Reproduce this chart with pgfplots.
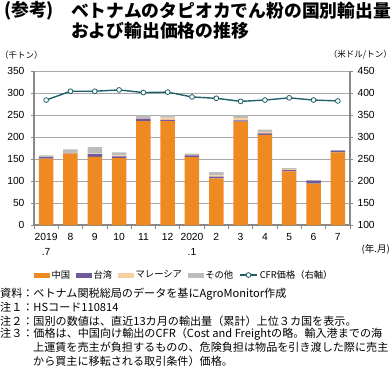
\documentclass[border=0pt]{standalone}
\usepackage{pgfplots}
\pgfplotsset{compat=1.18}
\usepackage{fontspec}
\setmainfont{Noto Sans CJK JP}
\newfontfamily\numfont{Liberation Sans}
\definecolor{cn}{HTML}{EE8A21}
\definecolor{tw}{HTML}{6F5A9C}
\definecolor{my}{HTML}{F8CFA0}
\definecolor{ot}{HTML}{BCBCBC}
\definecolor{cfr}{HTML}{1E5F68}
\definecolor{axg}{HTML}{888888}
\definecolor{grd}{HTML}{A8A8A8}
\begin{document}
\begin{tikzpicture}[x=1pt,y=1pt]
\path (0,0) rectangle (392,-370);
\node[anchor=west,font=\bfseries\fontsize{17.8}{20}\selectfont,inner sep=0] at (4,-11) {(参考)};
\node[anchor=west,font=\bfseries\fontsize{17.8}{20}\selectfont,inner sep=0] at (71,-11) {ベトナムのタピオカでん粉の国別輸出量};
\node[anchor=west,font=\bfseries\fontsize{17.8}{20}\selectfont,inner sep=0] at (71,-31) {および輸出価格の推移};
\node[anchor=west,font=\fontsize{8.5}{10}\selectfont,inner sep=0] at (0,-55) {（千トン）};
\node[anchor=east,font=\fontsize{8.5}{10}\selectfont,inner sep=0] at (392,-55) {（米ドル/トン）};
\node[anchor=east,font=\fontsize{9.5}{10}\selectfont,inner sep=0] at (390,-249) {(年.月)};

\begin{axis}[
  at={(34pt,-225pt)}, anchor=south west,
  scale only axis, width=316pt, height=154pt,
  xmin=-0.5, xmax=12.5, ymin=0, ymax=350,
  ybar stacked, bar width=14.5pt,
  axis x line*=bottom, axis y line*=left,
  axis line style={draw=axg, line width=1.3pt},
  xtick={0,...,12},
  xticklabels={{2019\\.7},8,9,10,11,12,{2020\\.1},2,3,4,5,6,7},
  xticklabel style={align=center, font=\numfont\fontsize{10.3}{15}\selectfont, yshift=-2pt},
  major x tick style={draw=none},
  minor xtick={-0.5,0.5,...,12.5},
  minor x tick style={draw=axg, line width=0.8pt},
  ytick={0,50,...,350},
  ytick style={draw=axg, line width=0.8pt},
  yticklabel style={font=\numfont\fontsize{10.3}{12}\selectfont, xshift=-3pt},
  /pgf/number format/assume math mode=true,
  ymajorgrids, grid style={draw=grd, line width=0.8pt},
  tick align=outside,
  major tick length=3pt, minor tick length=4pt,
]
\addplot[fill=cn, draw=none] coordinates {(0,151) (1,162) (2,155) (3,152) (4,236) (5,236) (6,154) (7,106) (8,235) (9,205) (10,122) (11,94) (12,165)};
\addplot[fill=tw, draw=none] coordinates {(0,3) (1,1) (2,6) (3,4) (4,6) (5,3) (6,4) (7,4) (8,3) (9,3) (10,3) (11,7) (12,4)};
\addplot[fill=my, draw=none] coordinates {(0,1) (1,1) (2,1) (3,2) (4,1) (5,5) (6,1) (7,3) (8,5) (9,3) (10,2) (11,0) (12,0)};
\addplot[fill=ot, draw=none] coordinates {(0,3) (1,8) (2,15) (3,7) (4,6) (5,6) (6,3) (7,7) (8,6) (9,6) (10,2) (11,1) (12,1)};
\end{axis}

\begin{axis}[
  at={(34pt,-225pt)}, anchor=south west,
  scale only axis, width=316pt, height=154pt,
  xmin=-0.5, xmax=12.5, ymin=100, ymax=450,
  axis x line=none, axis y line*=right,
  axis line style={draw=axg, line width=1.3pt},
  ytick={100,150,...,450},
  ytick style={draw=axg, line width=0.8pt},
  yticklabel style={font=\numfont\fontsize{10.3}{12}\selectfont, xshift=1pt},
  /pgf/number format/assume math mode=true,
  tick align=outside, major tick length=3pt,
  legend style={at={(0.476,-0.325)}, anchor=center, draw=none, fill=none,
    legend columns=5, font=\fontsize{9.3}{11}\selectfont, inner sep=0pt,
    /tikz/every even column/.append style={column sep=4pt}},
  legend cell align=left,
]
\addlegendimage{legend image code/.code={\fill[cn] (0pt,-1.8pt) rectangle (15pt,1.8pt);}}
\addlegendentry{中国}
\addlegendimage{legend image code/.code={\fill[tw] (0pt,-1.8pt) rectangle (15pt,1.8pt);}}
\addlegendentry{台湾}
\addlegendimage{legend image code/.code={\fill[my] (0pt,-1.8pt) rectangle (15pt,1.8pt);}}
\addlegendentry{マレーシア}
\addlegendimage{legend image code/.code={\fill[ot] (0pt,-1.8pt) rectangle (15pt,1.8pt);}}
\addlegendentry{その他}
\addplot[draw=cfr, line width=1.4pt, mark=*, mark size=2.4pt, mark options={fill=white, draw=cfr, line width=0.8pt}]
  coordinates {(0,384) (1,404) (2,404) (3,407) (4,401) (5,402) (6,391) (7,388) (8,381) (9,384) (10,389) (11,384) (12,382)};
\addlegendentry{CFR価格（右軸）}
\end{axis}

\begin{scope}[font=\fontsize{11.1}{13}\selectfont]
\node[anchor=west,inner sep=0] at (0,-294) {資料：ベトナム関税総局のデータを基にAgroMonitor作成};
\node[anchor=west,inner sep=0] at (0,-307.4) {注１：HSコード110814};
\node[anchor=west,inner sep=0] at (0,-320.8) {注２：国別の数値は、直近13カ月の輸出量（累計）上位３カ国を表示。};
\node[anchor=west,inner sep=0] at (0,-334.2) {注３：価格は、中国向け輸出のCFR（Cost and Freightの略。輸入港までの海};
\node[anchor=west,inner sep=0] at (33,-347.6) {上運賃を売主が負担するものの、危険負担は物品を引き渡した際に売主};
\node[anchor=west,inner sep=0] at (33,-361) {から買主に移転される取引条件）価格。};
\end{scope}
\end{tikzpicture}
\end{document}
